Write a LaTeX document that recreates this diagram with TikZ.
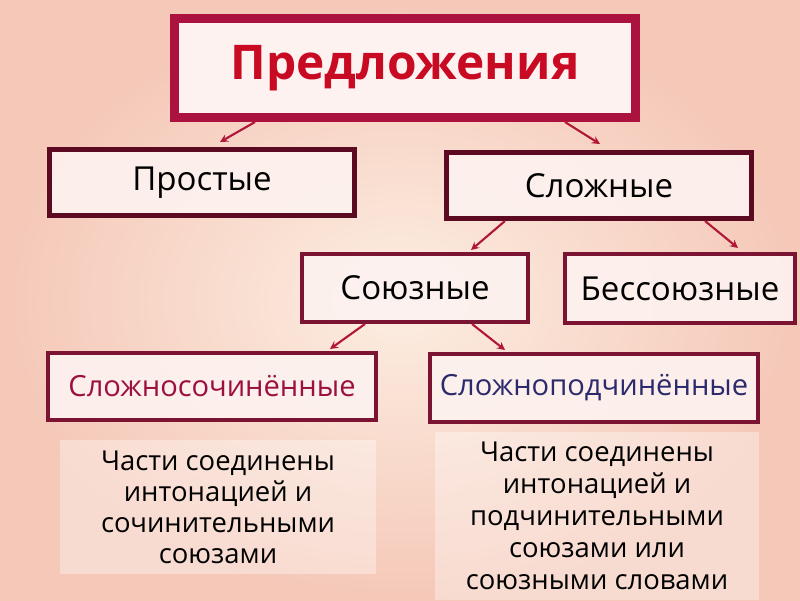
\documentclass[tikz,border=0pt]{standalone}
\usepackage{fontspec}
\setmainfont{Open Sans}
\usepackage{xcolor}
\usepackage{tikz}
\usetikzlibrary{calc,arrows.meta,positioning}

\definecolor{titlered}{RGB}{200,10,35}
\definecolor{titleframe}{RGB}{172,18,62}
\definecolor{darkframe}{RGB}{92,10,34}
\definecolor{midframe}{RGB}{122,20,50}
\definecolor{boxfill}{RGB}{253,242,240}
\definecolor{arrowred}{RGB}{178,22,55}
\definecolor{sochcol}{RGB}{156,16,64}
\definecolor{podchcol}{RGB}{44,42,108}
\definecolor{bgout}{RGB}{245,200,184}
\definecolor{bgin}{RGB}{252,238,226}

\begin{document}
\begin{tikzpicture}[x=0.025cm, y=-0.025cm,
    every node/.style={font=\fontsize{23.5}{26}\selectfont, inner sep=0pt},
    box/.style={draw=darkframe, fill=boxfill, fill opacity=0.9, text opacity=1, line width=3.5pt},
    subbox/.style={draw=midframe, fill=boxfill, fill opacity=0.9, text opacity=1, line width=2.8pt},
    note/.style={fill=white, fill opacity=0.35, text opacity=1, align=center},
    arr/.style={->, >=stealth, line width=1.5pt, arrowred}]

% Background
\useasboundingbox (0,0) rectangle (800,600);
\shade[inner color=bgin, outer color=bgout] (0,0) rectangle (800,600);

% Title
\node[draw=titleframe, fill=boxfill, line width=6.4pt, minimum width=11.525cm, minimum height=2.475cm,
    font=\fontsize{34}{38}\selectfont\bfseries, text=titlered] (title) at (405,68) {\raisebox{-0.12cm}{Предложения}};

% Level 1
\node[box, minimum width=7.625cm, minimum height=1.65cm] (prost) at (202,182.5) {\raisebox{-0.06cm}{Простые}};
\node[box, minimum width=7.625cm, minimum height=1.65cm] (slozh) at (599,185.5) {\raisebox{-0.04cm}{Сложные}};

% Level 2
\node[subbox, minimum width=5.65cm, minimum height=1.7cm] (soyuz) at (415,288) {Союзные};
\node[subbox, minimum width=5.75cm, minimum height=1.725cm] (bess) at (680,288.5) {Бессоюзные};

% Level 3
\node[subbox, minimum width=8.2cm, minimum height=1.675cm, text=sochcol,
    font=\fontsize{20.7}{24}\selectfont] (ssoch) at (212,386.5) {Сложносочинённые};
\node[subbox, minimum width=8.2cm, minimum height=1.7cm, text=podchcol,
    font=\fontsize{20.7}{24}\selectfont] (spodch) at (594,388) {Сложноподчинённые};

% Descriptions
\node[note, minimum width=7.9cm, minimum height=3.35cm, font=\fontsize{19.5}{22}\selectfont] (dsoch) at (218,507) {
    Части соединены\\
    интонацией и\\
    сочинительными\\
    союзами
};
\node[note, minimum width=8.1cm, minimum height=4.2cm, font=\fontsize{19.5}{22.8}\selectfont] (dpodch) at (597,516) {
    Части соединены\\
    интонацией и\\
    подчинительными\\
    союзами или\\
    союзными словами
};

% Arrows
\draw[arr] ($(title.south)+(-150,0)$) -- ($(prost.north)+(18,-5)$);
\draw[arr] ($(title.south)+(160,0)$) -- ($(slozh.north)+(1,-6)$);
\draw[arr] ($(slozh.south)+(-94,0)$) -- ($(soyuz.north)+(56,-2)$);
\draw[arr] ($(slozh.south)+(106,0)$) -- ($(bess.north)+(58,-4)$);
\draw[arr] ($(soyuz.south)+(-50,0)$) -- ($(ssoch.north)+(118,-2)$);
\draw[arr] ($(soyuz.south)+(57,0)$) -- ($(spodch.north)+(-89,-2)$);

\end{tikzpicture}
\end{document}
